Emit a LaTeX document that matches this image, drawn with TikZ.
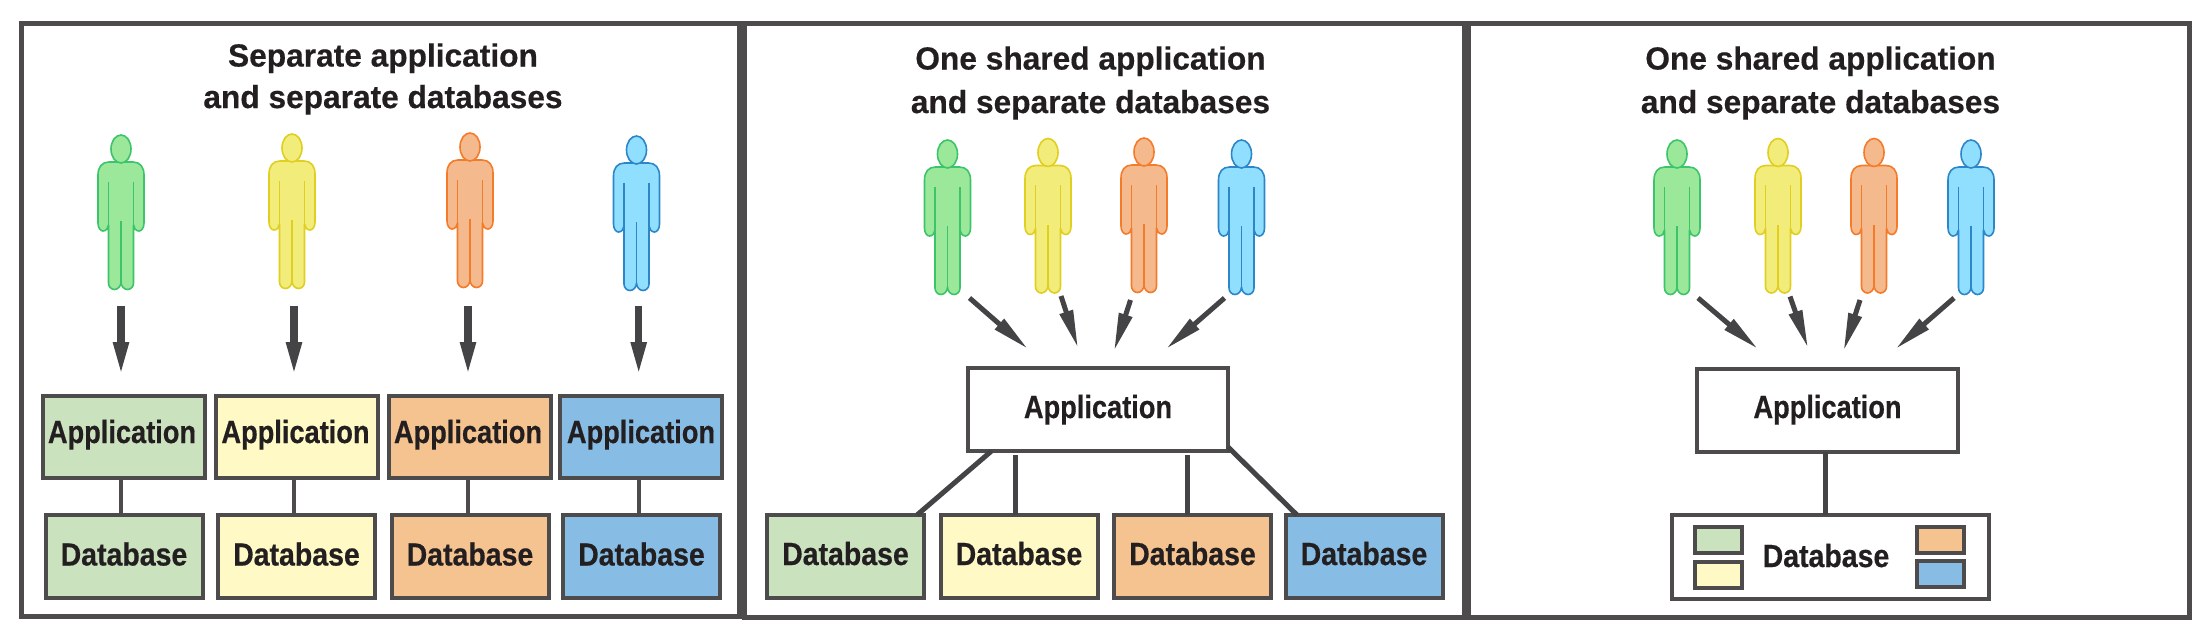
\documentclass[tikz,border=0pt]{standalone}
\usepackage{fontspec}
\setmainfont{Liberation Sans}
\newfontfamily\boxfont[FakeStretch=0.85,FakeBold=0.5]{Liberation Sans Bold}
\newfontfamily\dbfont[FakeStretch=0.89,FakeBold=0.5]{Liberation Sans Bold}
\newfontfamily\titlefont[FakeStretch=0.99,FakeBold=0.4]{Liberation Sans Bold}
\usetikzlibrary{arrows.meta}
\definecolor{frameC}{HTML}{4D4B4B}
\definecolor{arrowC}{HTML}{444446}
\definecolor{inkC}{HTML}{231F20}
\definecolor{boxG}{HTML}{CBE2BF}
\definecolor{boxY}{HTML}{FEF9C5}
\definecolor{boxO}{HTML}{F5C38F}
\definecolor{boxB}{HTML}{87BCE4}
\tikzset{
  person/.pic={
    \path[pic actions,line join=round] (-12,27) -- (12,27) .. controls (19,27) and (23,32) .. (23,40) -- (23,88)
      .. controls (23,93) and (20.5,96) .. (18,96) .. controls (15,96) and (12.5,93) .. (12.5,90)
      -- (12.5,148) .. controls (12.5,152) and (9.5,154.5) .. (6.5,154.5) .. controls (3,154.5) and (0,151) .. (0,147)
      .. controls (0,151) and (-3,154.5) .. (-6.5,154.5) .. controls (-9.5,154.5) and (-12.5,152) .. (-12.5,148)
      -- (-12.5,90) .. controls (-12.5,93) and (-15,96) .. (-18,96) .. controls (-20.5,96) and (-23,93) .. (-23,88)
      -- (-23,40) .. controls (-23,32) and (-19,27) .. (-12,27) -- cycle;
    \path[pic actions] (0,14) ellipse [x radius=10,y radius=14];
    \path[pic actions,fill=none] (12.5,47) -- (12.5,90) (-12.5,47) -- (-12.5,90) (0,86) -- (0,147);
  },
  pG/.style={draw={rgb,255:red,60;green,196;blue,106},fill={rgb,255:red,155;green,232;blue,155},line width=1.6pt},
  pY/.style={draw={rgb,255:red,224;green,207;blue,32},fill={rgb,255:red,242;green,236;blue,122},line width=1.6pt},
  pO/.style={draw={rgb,255:red,244;green,123;blue,42},fill={rgb,255:red,245;green,185;blue,142},line width=1.6pt},
  pB/.style={draw={rgb,255:red,44;green,134;blue,200},fill={rgb,255:red,144;green,223;blue,255},line width=1.6pt},
  panel/.style={draw=frameC,line width=5pt,inner sep=0pt,outer sep=0pt},
  titletext/.style={font=\titlefont\fontsize{32}{41.5}\selectfont,text=inkC,align=center},
  appbox/.style={draw=frameC,line width=4pt,inner sep=0pt,outer sep=0pt,font=\boxfont\fontsize{32}{36}\selectfont,text=inkC,text height=24pt,text depth=12pt,minimum height=82pt},
  dbbox/.style={draw=frameC,line width=4pt,inner sep=0pt,outer sep=0pt,font=\dbfont\fontsize{32}{36}\selectfont,text=inkC,text height=24pt,text depth=6pt,minimum height=83pt},
  swatch/.style={draw=frameC,line width=4pt,inner sep=0pt,outer sep=0pt,minimum width=47pt,minimum height=26pt},
  bigarrow/.style={draw=arrowC,line width=7.5pt,-{Triangle[length=35pt,width=14pt]}},
  slantarrow/.style={draw=arrowC,line width=5pt,-{Triangle[length=38pt,width=13pt]}},
  link/.style={draw=frameC,line width=4pt},
  slink/.style={draw=arrowC,line width=5pt}
}
\begin{document}
\begin{tikzpicture}[x=1pt,y=-1pt]
\useasboundingbox[fill=white] (0,0) rectangle (2207,631);
% panels
\node[panel,minimum width=718pt,minimum height=592pt] (P1) at (380,320) {};
\node[panel,minimum width=720pt,minimum height=593.5pt] (P2) at (1104,320.25) {};
\node[panel,minimum width=720.5pt,minimum height=593.5pt] (P3) at (1829,320.25) {};
% titles
\node[titletext] (T1) at (383,79) {Separate application\\and separate databases};
\node[titletext] (T2) at (1090.5,83) {One shared application\\[2pt]and separate databases};
\node[titletext] (T3) at (1820.5,83) {One shared application\\[2pt]and separate databases};
% persons panel 1
\pic[pG] at (121,135) {person};
\pic[pY] at (292,134) {person};
\pic[pO] at (470,133) {person};
\pic[pB] at (636.5,136) {person};
% persons panel 2
\pic[pG] at (947.5,140) {person};
\pic[pY] at (1048,138.5) {person};
\pic[pO] at (1144,138) {person};
\pic[pB] at (1241.5,140) {person};
% persons panel 3
\pic[pG] at (1677,140) {person};
\pic[pY] at (1778,138.5) {person};
\pic[pO] at (1874,138.5) {person};
\pic[pB] at (1971,140) {person};
% panel 1 boxes
\node[appbox,fill=boxG,minimum width=162pt] (a1) at (124,437) {\hspace*{-4pt}Application};
\node[appbox,fill=boxY,minimum width=162pt] (a2) at (296.5,437) {\hspace*{-2pt}Application};
\node[appbox,fill=boxO,minimum width=162pt] (a3) at (470,437) {\hspace*{-4pt}Application};
\node[appbox,fill=boxB,minimum width=162pt] (a4) at (641,437) {Application};
\node[dbbox,fill=boxG,minimum width=157pt] (d1) at (124,556.5) {Database};
\node[dbbox,fill=boxY,minimum width=157pt] (d2) at (296.5,556.5) {Database};
\node[dbbox,fill=boxO,minimum width=157pt] (d3) at (470,556.5) {Database};
\node[dbbox,fill=boxB,minimum width=157pt] (d4) at (641.5,556.5) {Database};
\draw[link] ([xshift=-3pt]a1.south) -- ([xshift=-3pt]d1.north);
\draw[link] ([xshift=-2.5pt]a2.south) -- ([xshift=-2.5pt]d2.north);
\draw[link] ([xshift=-2pt]a3.south) -- ([xshift=-2pt]d3.north);
\draw[link] ([xshift=-2.3pt]a4.south) -- ([xshift=-2.8pt]d4.north);
\coordinate (s1) at (121,306); \coordinate (e1) at (121,377);
\coordinate (s2) at (294,306); \coordinate (e2) at (294,377);
\coordinate (s3) at (468,306); \coordinate (e3) at (468,377);
\coordinate (s4) at (638.7,306); \coordinate (e4) at (638.7,377);
\draw[bigarrow] (s1) -- (e1);
\draw[bigarrow] (s2) -- (e2);
\draw[bigarrow] (s3) -- (e3);
\draw[bigarrow] (s4) -- (e4);
% panel 2
\node[appbox,fill=white,minimum width=260pt,minimum height=83pt,text depth=7pt] (A) at (1098,409.5) {Application};
\node[dbbox,fill=boxG,minimum width=157pt,text depth=7pt] (D1) at (845.5,556.5) {Database};
\node[dbbox,fill=boxY,minimum width=157pt,text depth=7pt] (D2) at (1019,556.5) {Database};
\node[dbbox,fill=boxO,minimum width=157pt,text depth=7pt] (D3) at (1192.5,556.5) {Database};
\node[dbbox,fill=boxB,minimum width=157pt,text depth=7pt] (D4) at (1364,556.5) {Database};
\coordinate (u1) at (969.5,298); \coordinate (v1) at (1028,349);
\coordinate (u2) at (1061,296); \coordinate (v2) at (1078,348);
\coordinate (u3) at (1130.5,300); \coordinate (v3) at (1114,351);
\coordinate (u4) at (1224.5,298); \coordinate (v4) at (1166,349);
\draw[slantarrow] (u1) -- (v1);
\draw[slantarrow] (u2) -- (v2);
\draw[slantarrow] (u3) -- (v3);
\draw[slantarrow] (u4) -- (v4);
\draw[slink] ([xshift=-106.5pt]A.south) -- ([xshift=71.5pt]D1.north);
\draw[slink] ([xshift=-83pt,yshift=-4pt]A.south) -- ([xshift=-4pt]D2.north);
\draw[slink] ([xshift=89pt,yshift=-4pt]A.south) -- ([xshift=-5.5pt]D3.north);
\draw[slink] ([yshift=4pt]A.south east) -- ([xshift=-67pt]D4.north);
% panel 3
\node[appbox,fill=white,minimum width=261pt,minimum height=83pt,text depth=9pt] (B) at (1827.5,410.5) {Application};
\node[dbbox,fill=white,minimum width=317pt,minimum height=84pt,text depth=4pt] (C) at (1830,557) {\hspace*{-8pt}Database};
\node[swatch,fill=boxG] (c1) at (1718.5,540) {};
\node[swatch,fill=boxY] (c2) at (1718.5,575) {};
\node[swatch,fill=boxO] (c3) at (1940,540) {};
\node[swatch,fill=boxB] (c4) at (1940,574) {};
\coordinate (w1) at (1698,298); \coordinate (x1) at (1758,349);
\coordinate (w2) at (1790,296.5); \coordinate (x2) at (1808,348);
\coordinate (w3) at (1860,300); \coordinate (x3) at (1843.5,351);
\coordinate (w4) at (1954,298); \coordinate (x4) at (1895.5,349);
\draw[slantarrow] (w1) -- (x1);
\draw[slantarrow] (w2) -- (x2);
\draw[slantarrow] (w3) -- (x3);
\draw[slantarrow] (w4) -- (x4);
\draw[slink] ([xshift=-2pt]B.south) -- ([xshift=-4.5pt]C.north);
\end{tikzpicture}
\end{document}
